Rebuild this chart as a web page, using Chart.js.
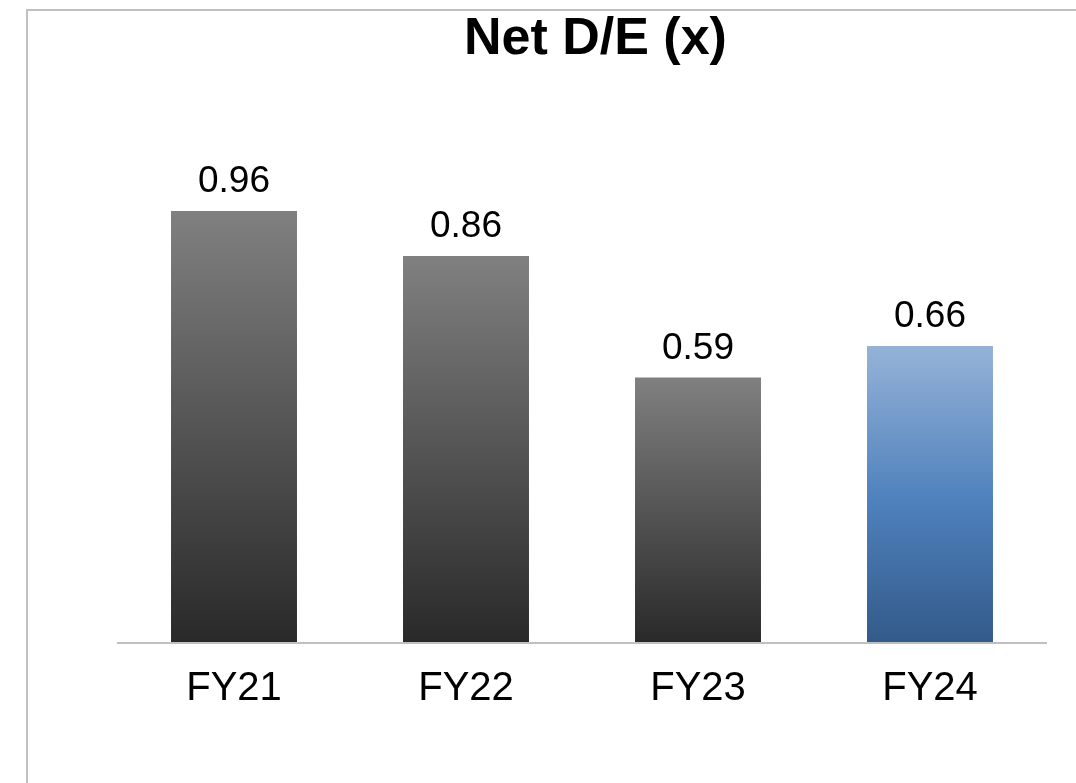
<!DOCTYPE html>
<html>
<head>
<meta charset="utf-8">
<title>Net D/E (x)</title>
<script src="https://cdn.jsdelivr.net/npm/chart.js@4/dist/chart.umd.min.js"></script>
<style>
    html, body { margin: 0; padding: 0; background: #fff; overflow: hidden; }
    body { width: 1076px; height: 783px; position: relative; }
    .frame {
        position: absolute; left: 26px; top: 9px;
        width: 1200px; height: 900px;
        border: 2px solid #c0c0c0;
    }
    .chart-title {
        position: absolute; left: 464px; top: 6px;
        margin: 0; white-space: nowrap;
        font: bold 52px/60px "Liberation Sans", Arial, Helvetica, sans-serif;
        color: #000;
    }
    #plot { position: absolute; left: 0; top: 0; }
</style>
</head>
<body>
<div class="frame"></div>
<canvas id="plot" width="1076" height="783" role="img" aria-label="Net D/E (x) by fiscal year"></canvas>
<h1 class="chart-title">Net D/E (x)</h1>
<script>
'use strict';

const categories = ['FY21', 'FY22', 'FY23', 'FY24'];
const netDebtToEquity = [0.96, 0.86, 0.59, 0.66];
const valueLabels = ['0.96', '0.86', '0.59', '0.66'];

const FONT = '"Liberation Sans", Arial, Helvetica, sans-serif';

// grey for past years, blue for the latest one
const GREY_STOPS = [[0, '#808080'], [1, '#292929']];
const BLUE_STOPS = [[0, '#95b3d7'], [0.52, '#4f81bd'], [1, '#335a89']];

function barFill(context) {
    const chart = context.chart;
    const yScale = chart.scales.y;
    if (!chart.chartArea || !yScale || context.dataIndex === undefined) return '#808080';
    const value = context.dataset.data[context.dataIndex];
    const top = yScale.getPixelForValue(value);
    const bottom = yScale.getPixelForValue(0);
    const stops = context.dataIndex === categories.length - 1 ? BLUE_STOPS : GREY_STOPS;
    const gradient = chart.ctx.createLinearGradient(0, top, 0, bottom);
    stops.forEach(([offset, color]) => gradient.addColorStop(offset, color));
    return gradient;
}

// numbers printed above each bar
const valueLabelPlugin = {
    id: 'valueLabels',
    afterDatasetsDraw(chart) {
        const ctx = chart.ctx;
        const meta = chart.getDatasetMeta(0);
        ctx.save();
        ctx.font = `37px ${FONT}`;
        ctx.fillStyle = '#000';
        ctx.textAlign = 'center';
        ctx.textBaseline = 'alphabetic';
        meta.data.forEach((bar, i) => {
            ctx.fillText(valueLabels[i], bar.x, bar.y - 19);
        });
        ctx.restore();
    }
};

new Chart(document.getElementById('plot'), {
    type: 'bar',
    data: {
        labels: categories,
        datasets: [{
            label: 'Net D/E (x)',
            data: netDebtToEquity,
            backgroundColor: barFill,
            borderWidth: 0,
            barPercentage: 1,
            categoryPercentage: 0.543,
        }]
    },
    options: {
        responsive: false,
        animation: false,
        layout: { padding: { top: 103, left: 118, right: 30, bottom: 0 } },
        plugins: {
            legend: { display: false },
            title: { display: false },
            tooltip: { enabled: false },
        },
        scales: {
            x: {
                grid: { display: false, drawTicks: false },
                border: { display: true, color: '#c0c0c0', width: 2, z: 1 },
                ticks: {
                    color: '#000',
                    padding: 22,
                    font: { family: FONT, size: 40 },
                },
                afterFit(scale) { scale.height = 140; },
            },
            y: {
                display: false,
                min: 0,
                max: 1.2,
            }
        }
    },
    plugins: [valueLabelPlugin]
});
</script>
</body>
</html>
